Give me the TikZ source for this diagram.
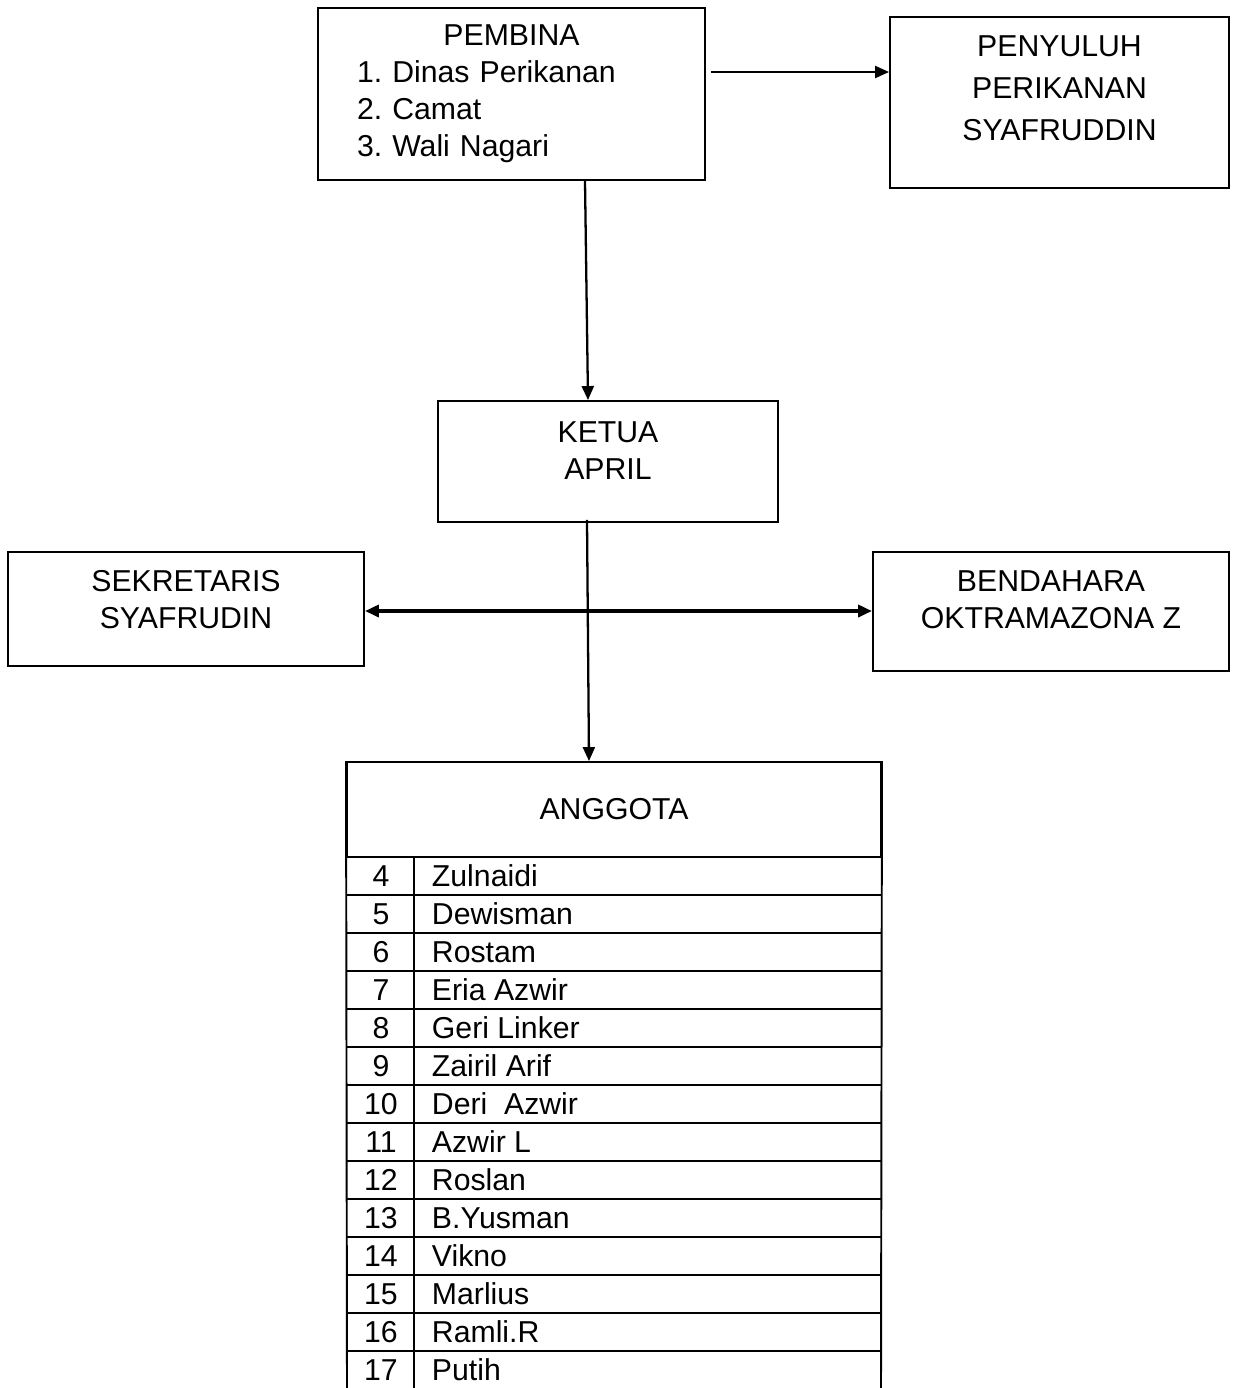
\documentclass[tikz,border=0pt]{standalone}
\usepackage{fontspec}
\setmainfont{Liberation Sans}
\usetikzlibrary{arrows.meta}
\frenchspacing

\begin{document}
\begin{tikzpicture}[line width=1.1pt,
  every node/.style={font=\fontsize{17.2}{21}\selectfont},
  kotak/.style={draw, inner sep=0pt},
  panah/.style={-{Triangle[length=0.28cm,width=0.24cm]}, line width=1.3pt},
  duapanah/.style={{Triangle[length=0.28cm,width=0.24cm]}-{Triangle[length=0.28cm,width=0.24cm]}, line width=2pt}]
\useasboundingbox (0,0) rectangle (24.64,-27.76);

% Kotak pengurus
\node[kotak, minimum width=7.74cm, minimum height=3.44cm] (pembina) at (10.23,-1.88) {};
\node[kotak, minimum width=6.78cm, minimum height=3.42cm] (penyuluh) at (21.19,-2.05) {};
\node[kotak, minimum width=6.8cm, minimum height=2.42cm] (ketua) at (12.16,-9.23) {};
\node[kotak, minimum width=7.12cm, minimum height=2.28cm] (sekretaris) at (3.72,-12.18) {};
\node[kotak, minimum width=7.12cm, minimum height=2.38cm] (bendahara) at (21.02,-12.23) {};
\node[kotak, minimum width=10.68cm, minimum height=1.9cm] (anggota) at (12.28,-16.19) {ANGGOTA};

% Teks dalam kotak
\node[align=left, text width=6.18cm] (pembina-t) at (pembina.center)
  {\makebox[6.18cm]{PEMBINA}\\1. Dinas Perikanan\\2. Camat\\3. Wali Nagari};
\node[align=center, font=\fontsize{17.2}{23.8}\selectfont] (penyuluh-t) at ([yshift=0.29cm]penyuluh.center)
  {PENYULUH\\PERIKANAN\\SYAFRUDDIN};
\node[align=center] (ketua-t) at ([yshift=0.22cm]ketua.center) {KETUA\\APRIL};
\node[align=center] (sekretaris-t) at ([yshift=0.19cm]sekretaris.center) {SEKRETARIS\\SYAFRUDIN};
\node[align=center] (bendahara-t) at ([yshift=0.24cm]bendahara.center) {BENDAHARA\\OKTRAMAZONA Z};

% Panah
\draw[panah] ([xshift=0.1cm,yshift=0.44cm]pembina.east) coordinate (p1) -- (p1 -| penyuluh.west);
\draw[panah] ([xshift=1.47cm]pembina.south) -- ([xshift=-0.4cm]ketua.north);
\draw[panah] ([xshift=-0.42cm,yshift=0.06cm]ketua.south) -- ([xshift=-0.5cm]anggota.north);
\draw[duapanah] ([yshift=-0.04cm]sekretaris.east) coordinate (p2) -- (p2 -| bendahara.west);

% Tabel anggota
\draw (anggota.north west) -- (6.94,-27.76);
\draw (anggota.north east) -- (17.62,-27.76);
\draw (8.28,-17.14) -- (8.28,-27.76);
\foreach \nama [count=\k from 4] in {Zulnaidi, Dewisman, Rostam, Eria Azwir, Geri Linker,
    Zairil Arif, Deri\ \ Azwir, Azwir L, Roslan, B.Yusman, Vikno, Marlius, Ramli.R, Putih} {
  \pgfmathsetmacro\yy{-17.14-0.76*(\k-4)}
  \ifnum\k>4 \draw (6.94,\yy) -- (17.62,\yy); \fi
  \node[anchor=base] (no\k) at (7.62,\yy-0.59) {\k};
  \node[anchor=base west, inner sep=0pt] (nm\k) at (8.62,\yy-0.59) {\nama};
}
\end{tikzpicture}
\end{document}
